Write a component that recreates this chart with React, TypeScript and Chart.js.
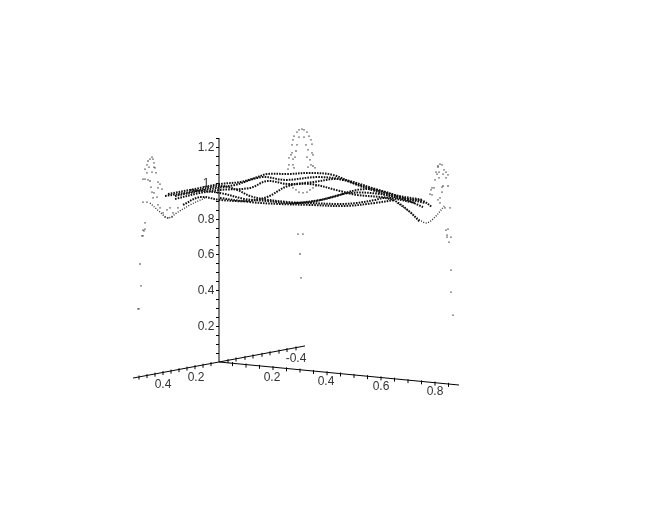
import React, { useEffect, useRef } from "react";
import { Chart, registerables } from "chart.js";

Chart.register(...registerables);

const zTicks = [0.05,0.1,0.15,0.2,0.25,0.3,0.35,0.4,0.45,0.5,0.55,0.6,0.65,0.7,0.75,0.8,0.85,0.9,0.95,1,1.05,1.1,1.15,1.2,1.25];
const zLabelled = [0.2,0.4,0.6,0.8,1,1.2];
const zLabelX = 206;

const zAxisX = [219, 219];
const zAxisZ = [0, 1.255];
const rightAxisX = [219, 459];
const rightAxisZ = [0, -0.129];
const leftAxisX = [219, 133];
const leftAxisZ = [0, -0.09];
const backAxisX = [219, 305];
const backAxisZ = [0, 0.09];

const rightTickX = [232.5,246,259.5,273,286.5,300,313.5,327,340.5,354,367.5,381,394.5,408,421.5,435,448.5];
const rightTickZ = [-0.012,-0.02,-0.027,-0.034,-0.041,-0.048,-0.056,-0.063,-0.07,-0.078,-0.085,-0.092,-0.099,-0.107,-0.114,-0.121,-0.128];
const leftTickX = [211,203,195,187,179,171,163,155,147,139];
const leftTickZ = [-0.012,-0.021,-0.029,-0.037,-0.046,-0.054,-0.062,-0.071,-0.079,-0.087];
const backTickX = [228,236,245,253,262,270,279,287,296];
const backTickZ = [0.005,0.014,0.023,0.031,0.04,0.049,0.058,0.067,0.076];

const axisLabels = ["0.2","0.4","0.6","0.8","0.4","0.2","-0.4"];
const axisLabelX = [272,326,381,435,163,196,296];
const axisLabelZ = [-0.09,-0.112,-0.14,-0.168,-0.129,-0.09,0.017];

const leftPeakX = [152,150,153,148,154,147,149,154,145,155,147,152,156,143,145,148,150,158,160,151,158,162,152,154,157,153,143,147,145,143,145,144,142,143,140,141,138,139,158,160,163,165,168,172,173,170,178,167];
const leftPeakZ = [1.148,1.137,1.137,1.126,1.115,1.104,1.092,1.092,1.081,1.087,1.059,1.064,1.059,1.025,1.025,1.02,1.014,1.008,0.997,0.98,0.975,0.969,0.952,0.947,0.924,0.919,0.896,0.896,0.779,0.739,0.745,0.734,0.706,0.706,0.549,0.426,0.297,0.297,0.88,0.863,0.835,0.812,0.807,0.812,0.835,0.863,0.863,0.852];
const midPeakX = [302,299,304,297,307,294,309,299,304,293,311,292,312,297,306,296,292,291,308,312,313,289,295,307,293,310,289,293,311,294,308,313,288,315,298,303,300,301,293,296,299,303,307,310,313,290,316];
const midPeakZ = [1.305,1.3,1.3,1.288,1.288,1.266,1.266,1.26,1.26,1.244,1.244,1.216,1.221,1.216,1.216,1.182,1.171,1.16,1.188,1.171,1.16,1.143,1.148,1.148,1.137,1.132,1.104,1.104,1.104,1.087,1.092,1.098,1.081,1.087,0.717,0.717,0.605,0.471,0.975,0.964,0.952,0.947,0.952,0.964,0.975,0.992,0.986];
const rightPeakX = [440,438,442,438,444,446,436,439,437,443,448,439,446,435,443,448,442,432,434,431,442,430,432,440,438,440,445,450,446,448,447,447,451,449,451,451,453];
const rightPeakZ = [1.109,1.098,1.104,1.092,1.076,1.064,1.064,1.064,1.053,1.053,1.048,1.031,1.031,1.02,0.986,0.986,0.98,0.975,0.975,0.964,0.952,0.941,0.936,0.919,0.908,0.891,0.863,0.863,0.739,0.745,0.711,0.7,0.7,0.672,0.515,0.392,0.263];

const strand1X = [168,190,220,240,255,267,288,310,333,357,375,390,407,423,432];
const strand1Z = [0.941,0.964,0.997,1.008,1.031,1.053,1.053,1.059,1.048,0.992,0.958,0.93,0.913,0.902,0.868];
const strand2X = [165,190,220,237,250,263,288,310,340,357,375,385,397,410,420];
const strand2Z = [0.93,0.952,0.986,0.964,0.93,0.913,0.896,0.891,0.885,0.891,0.908,0.919,0.896,0.84,0.784];
const strand3X = [175,200,220,250,267,288,313,337,357,390,423];
const strand3Z = [0.913,0.947,0.964,0.975,1.014,0.997,1.008,1.025,0.997,0.941,0.908];
const strand4X = [183,200,220,247,267,288,310,340,357,390,415];
const strand4Z = [0.88,0.924,0.908,0.902,0.924,0.986,0.997,0.958,0.936,0.919,0.891];
const strand5X = [190,220,245,267,288,310,333,357,377,400,423];
const strand5Z = [0.964,0.947,0.913,0.902,0.891,0.896,0.924,0.964,0.964,0.924,0.868];
const strand6X = [175,205,235,262,285,318,345,372,400,425];
const strand6Z = [0.93,0.964,0.992,1.036,1.02,1.036,1.02,0.975,0.924,0.891];
const strand7X = [290,320,350,380,410];
const strand7Z = [0.885,0.908,0.947,0.941,0.902];
const strand8X = [220,250,280,310,345,375,395];
const strand8Z = [0.919,0.896,0.885,0.88,0.874,0.891,0.908];
const leftDipX = [150,160,168,178,190,205];
const leftDipZ = [0.891,0.84,0.807,0.84,0.88,0.919];
const rightDipX = [397,410,420,427,435,445];
const rightDipZ = [0.891,0.84,0.795,0.779,0.812,0.88];

const zip = (xs: number[], ys: number[]) => xs.map((x, i) => ({ x, y: ys[i] }));

const FONT = '12px "Liberation Sans", Arial, sans-serif';

const axisLine = (xs: number[], zs: number[]) => ({
  data: zip(xs, zs), showLine: true, borderColor: "#000", borderWidth: 1, pointRadius: 0, order: 1,
});
const tickMarks = (xs: number[], zs: number[]) => ({
  data: zip(xs, zs), showLine: false, pointStyle: "line", pointRadius: 2, rotation: 90,
  borderColor: "#000", pointBorderColor: "#000", pointBorderWidth: 1, order: 1,
});
const band = (xs: number[], zs: number[]) => ({
  data: zip(xs, zs), showLine: true, borderColor: "#111", borderWidth: 2, borderDash: [1.6, 1.1],
  tension: 0.35, pointRadius: 0, order: 2,
});
const thinBand = (xs: number[], zs: number[]) => ({
  data: zip(xs, zs), showLine: true, borderColor: "#333", borderWidth: 1.4, borderDash: [1, 1.5],
  tension: 0.35, pointRadius: 0, order: 2,
});
const dots = (xs: number[], zs: number[]) => ({
  data: zip(xs, zs), showLine: false, pointStyle: "rect", pointRadius: 0.9, pointBorderWidth: 0,
  pointBackgroundColor: "#333", order: 3,
});

const axisTextPlugin = {
  id: "axisText",
  afterDatasetsDraw(chart: any) {
    const { ctx, scales } = chart;
    ctx.save();
    ctx.font = FONT;
    ctx.fillStyle = "#333";
    ctx.textAlign = "center";
    ctx.textBaseline = "middle";
    axisLabels.forEach((t, i) => {
      ctx.fillText(t, scales.x.getPixelForValue(axisLabelX[i]), scales.y.getPixelForValue(axisLabelZ[i]));
    });
    zLabelled.forEach((v) => {
      ctx.fillText(String(v), scales.x.getPixelForValue(zLabelX), scales.y.getPixelForValue(v));
    });
    ctx.restore();
  },
};

export default function App() {
  const ref = useRef<HTMLCanvasElement>(null);
  useEffect(() => {
    if (!ref.current) return;
    const chart = new Chart(ref.current, {
      type: "scatter",
      plugins: [axisTextPlugin],
      data: {
        datasets: [
          axisLine(zAxisX, zAxisZ),
          axisLine(rightAxisX, rightAxisZ),
          axisLine(leftAxisX, leftAxisZ),
          axisLine(backAxisX, backAxisZ),
          tickMarks(rightTickX, rightTickZ),
          tickMarks(leftTickX, leftTickZ),
          tickMarks(backTickX, backTickZ),
          band(strand1X, strand1Z),
          band(strand2X, strand2Z),
          band(strand3X, strand3Z),
          band(strand4X, strand4Z),
          band(strand5X, strand5Z),
          band(strand6X, strand6Z),
          band(strand7X, strand7Z),
          band(strand8X, strand8Z),
          thinBand(leftDipX, leftDipZ),
          thinBand(rightDipX, rightDipZ),
          dots(leftPeakX, leftPeakZ),
          dots(midPeakX, midPeakZ),
          dots(rightPeakX, rightPeakZ),
        ] as any,
      },
      options: {
        responsive: false,
        animation: false,
        layout: { padding: 0, autoPadding: false },
        plugins: { legend: { display: false }, tooltip: { enabled: false } },
        scales: {
          x: { type: "linear", min: 0, max: 650, display: false },
          y: {
            type: "linear",
            min: -0.9524,
            max: 2.028,
            position: { x: 219 } as any,
            afterBuildTicks: (s: any) => {
              s.ticks = zTicks.map((value) => ({ value }));
            },
            border: { display: false },
            grid: { drawOnChartArea: false, drawTicks: true, tickLength: 3, tickColor: "#000", tickWidth: 1 },
            ticks: { display: false },
          } as any,
        },
      },
    });
    return () => chart.destroy();
  }, []);
  return (
    <canvas
      ref={ref}
      width={650}
      height={532}
      style={{ position: "absolute", left: 0, top: 0, width: 650, height: 532, background: "#fff" }}
    />
  );
}
